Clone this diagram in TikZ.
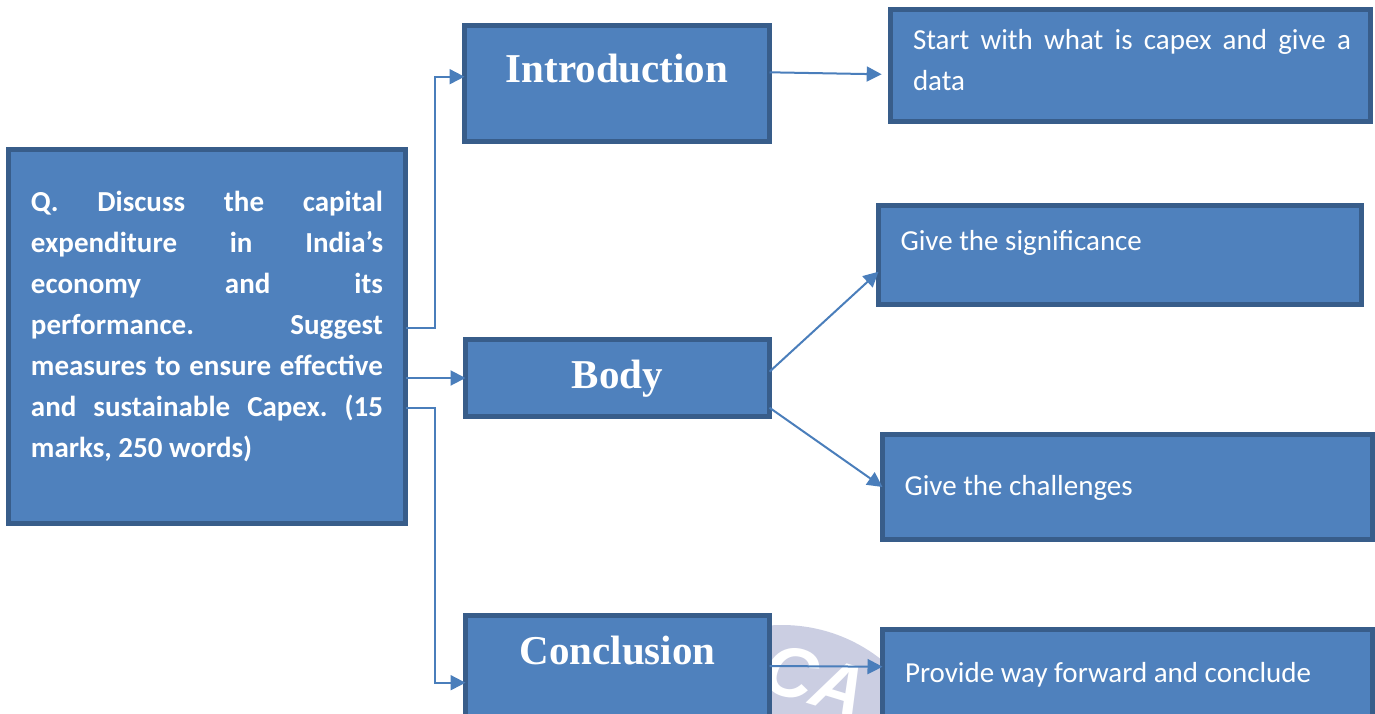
\documentclass[tikz,border=0pt]{standalone}
\usepackage{fontspec}
\setmainfont{Carlito}
\newfontfamily\headfont{Liberation Serif}
\newfontfamily\markfont{Liberation Sans}
\usetikzlibrary{arrows.meta}

\definecolor{boxfill}{HTML}{4F81BD}
\definecolor{boxline}{HTML}{385D8A}
\definecolor{linkcol}{HTML}{4A7EBB}
\definecolor{markcol}{HTML}{CBCEE2}

% box of fixed size, first baseline #3 below the top
\newcommand{\boxtext}[4]{\parbox[c][#1][t]{#2}{\frenchspacing\rule{0pt}{#3}#4}}

\begin{document}
\begin{tikzpicture}
[x=0.5pt,y=-0.5pt,
 every node/.style={inner sep=0pt,outer sep=0pt},
 box/.style={draw=boxline,fill=boxfill,line width=2.5pt,text=white,anchor=north west},
 head/.style={font=\headfont\bfseries\fontsize{20.5pt}{24pt}\selectfont},
 note/.style={font=\fontsize{14.5pt}{20.5pt}\selectfont},
 ask/.style={font=\bfseries\fontsize{14.5pt}{20.5pt}\selectfont},
 link/.style={draw=linkcol,line width=1pt,-{Triangle[length=7.5pt,width=7.5pt]}}]

\useasboundingbox (0,0) rectangle (1375,713);

% watermark
\fill[markcol] (782,785) circle[radius=80pt];
\node[text=white,font=\markfont\bfseries\itshape\fontsize{36pt}{36pt}\selectfont,
      rotate=-17,anchor=base west] (mark) at (758,688) {CA};

% question
\node[box,ask] (Q) at (8.5,149.5)
  {\boxtext{187pt}{198.5pt}{31.1pt}{\raggedright\leftskip=11.25pt\relax
   \makebox[176pt][s]{Q. Discuss the capital}\\
   \makebox[176pt][s]{expenditure in India’s}\\
   \makebox[176pt][s]{economy and its}\\
   \makebox[176pt][s]{performance. Suggest}\\
   \makebox[176pt][s]{measures to ensure effective}\\
   \makebox[176pt][s]{and sustainable Capex. (15}\\
   marks, 250 words)}};

% parts
\node[box,head] (Intro) at (464.5,25.5)  {\boxtext{58pt}{152.5pt}{28.25pt}{\centering Introduction}};
\node[box,head] (Body)  at (465.5,339.5) {\boxtext{38.5pt}{152pt}{24.25pt}{\centering Body}};
\node[box,head] (Concl) at (465.5,615.5) {\boxtext{58pt}{152pt}{24.25pt}{\centering Conclusion}};

% hints
\node[box,note] (Start) at (890.5,9.5)
  {\boxtext{56pt}{240pt}{19.9pt}{\raggedright\leftskip=11.25pt\relax
   \makebox[219pt][s]{Start with what is capex and give a}\\
   data}};
\node[box,note] (Sig)     at (878.5,205.5) {\boxtext{49.5pt}{241.5pt}{22.5pt}{\leftskip=11pt\relax Give the significance}};
\node[box,note] (Chal)    at (882.5,434.5) {\boxtext{52.5pt}{245pt}{30.25pt}{\leftskip=11pt\relax Give the challenges}};
\node[box,note] (Provide) at (882.5,629.5) {\boxtext{50pt}{245pt}{26.25pt}{\leftskip=11.25pt\relax Provide way forward and conclude}};

% connectors
\coordinate (bus) at (435,0);
\coordinate (inIntro) at ([yshift=3.4pt]Intro.west);
\coordinate (inConcl) at ([yshift=-4.6pt]Concl.west);
\draw[link] ([yshift=4.1pt]Q.east) -| (bus |- inIntro) -- (inIntro);
\draw[link] (Q.east |- Body.west) -- (Body.west);
\draw[link] ([yshift=-35.6pt]Q.east) -| (bus |- inConcl) -- (inConcl);

\draw[link] ([yshift=5.6pt]Intro.east) -- ([xshift=-4.4pt,yshift=-4.4pt]Start.west);
\draw[link] ([yshift=3.15pt]Body.east) -- ([yshift=-8.35pt]Sig.west);
\draw[link] ([yshift=-14.85pt]Body.east) -- (Chal.west);
\draw[link] ([yshift=3.75pt]Concl.east) -- ([yshift=6.4pt]Provide.west);

\end{tikzpicture}
\end{document}
